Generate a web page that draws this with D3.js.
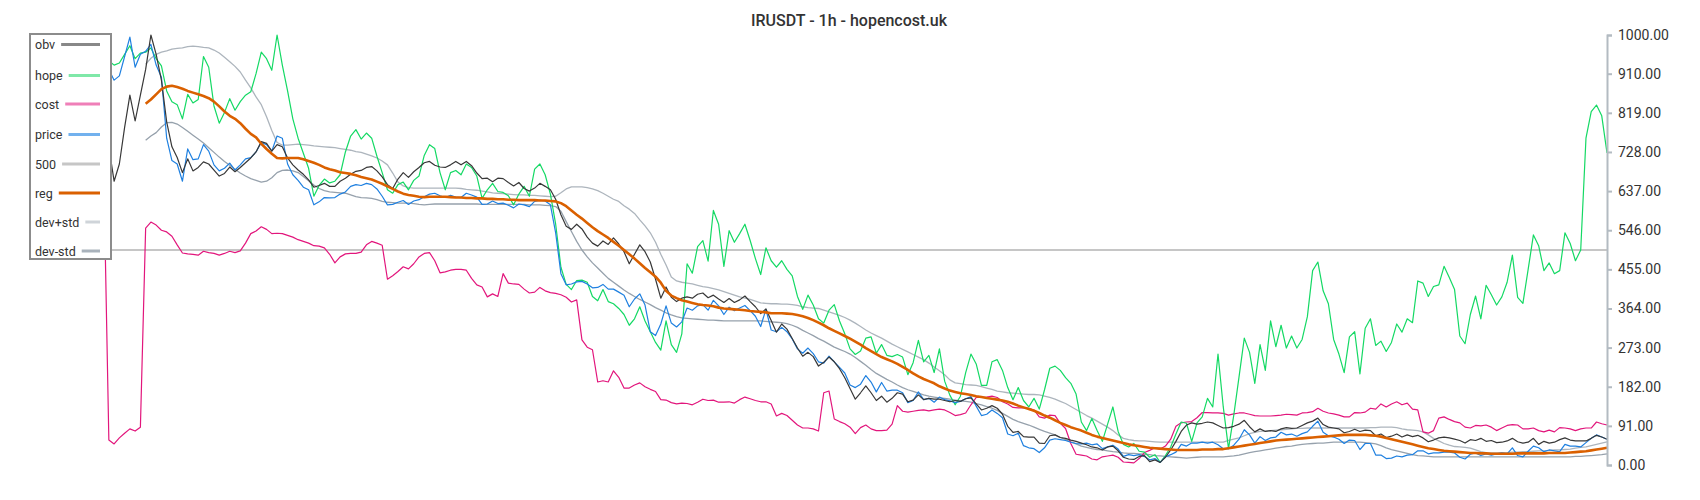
<!DOCTYPE html>
<html><head><meta charset="utf-8">
<script src="https://cdn.jsdelivr.net/npm/d3@7"></script>
<style>body{margin:0;background:#fff;} svg{display:block;font-family:Roboto,'Noto Sans',sans-serif;}</style>
</head><body><svg id="c" width="1700" height="500"></svg>
<script>
const title = "IRUSDT - 1h - hopencost.uk";
const yTicks = [0,91,182,273,364,455,546,637,728,819,910,1000];
const level500 = 500;

const obv = [
560,600,580,640,620,680,650,700,720,690,
740,760,730,770,750,740,660,700,785,860,
800,860,920,1000,955,895,798,740,715,680,
712,684,692,705,700,686,672,678,693,682,
692,703,714,728,752,748,730,745,740,714,
698,686,676,663,646,650,655,648,648,660,
667,676,683,685,692,694,684,670,652,643,
665,680,669,682,692,703,706,697,693,692,
698,706,698,706,696,679,666,667,659,667,
666,657,649,657,643,637,644,655,648,640,
618,582,555,548,560,549,530,516,509,521,
513,528,514,496,468,490,512,496,472,432,
388,414,390,380,388,391,388,397,400,389,
395,386,378,387,378,384,393,380,368,352,
363,336,309,328,316,294,272,253,262,252,
230,239,251,240,224,203,178,153,168,184,
168,150,160,146,155,168,165,147,151,163,
152,155,153,153,150,147,150,148,154,156,
142,128,132,138,132,118,90,76,78,66,
65,65,51,50,68,70,64,62,58,55,
51,47,42,40,35,42,44,33,18,14,
13,20,22,8,12,6,18,35,55,78,
93,98,95,97,100,98,92,86,87,90,
95,104,89,77,84,78,80,78,84,87,
85,86,92,98,102,109,94,88,86,84,
75,78,83,78,81,80,68,72,64,67,
72,65,70,66,69,63,54,58,63,65,
63,60,57,51,59,57,62,55,57,52,
53,56,62,54,51,53,62,48,55,51,
53,59,63,58,56,56,56,62,69,65,
60];

const hope = [
880,905,890,920,900,935,915,940,925,950,
930,945,960,935,950,940,930,935,955,975,
945,958,960,970,945,928,870,845,838,805,
862,842,850,950,925,835,795,820,852,825,
845,860,868,910,960,945,918,1000,930,870,
805,760,725,690,625,650,665,656,660,675,
728,765,780,758,772,760,718,680,640,632,
652,658,640,662,672,720,745,736,680,640,
680,685,675,700,692,672,620,640,655,636,
634,626,605,630,648,625,688,700,675,630,
560,460,420,408,429,430,425,392,382,408,
380,375,364,350,325,340,368,335,310,285,
267,335,280,262,305,468,446,508,522,474,
592,560,462,545,518,538,560,522,480,443,
505,475,460,475,455,440,392,362,395,372,
340,330,360,373,335,305,270,257,265,295,
298,260,280,255,252,257,251,210,238,290,
240,255,215,270,195,162,140,160,215,258,
235,185,185,240,245,220,180,152,180,150,
135,155,130,175,225,230,220,203,190,165,
100,80,108,80,55,95,135,78,48,42,
50,32,30,18,24,6,22,42,72,100,
97,55,98,112,155,135,258,135,38,116,
205,295,262,190,280,220,335,275,325,272,
300,272,292,345,452,472,405,375,292,258,
215,298,310,212,318,340,278,288,264,285,
328,309,340,331,428,423,392,415,419,462,
436,408,300,282,350,393,340,418,396,372,
391,425,488,390,376,455,535,510,452,470,
445,452,540,515,475,500,760,822,837,812,
726];

const cost = [
880,910,930,950,940,965,975,990,1000,985,
960,930,880,800,700,58,49,63,74,84,
79,88,551,565,558,546,542,532,512,493,
491,490,488,497,494,492,488,492,497,494,
498,516,538,544,554,548,538,539,538,534,
530,524,520,516,510,509,505,490,470,484,
491,492,492,495,512,520,516,511,432,440,
450,461,456,468,484,492,494,475,447,449,
453,455,455,453,434,419,414,391,398,392,
445,423,421,420,409,400,402,413,405,401,
399,396,390,379,384,291,274,268,193,196,
193,219,204,179,179,186,191,182,176,171,
152,151,145,142,144,143,140,146,153,150,
151,146,146,147,144,152,158,154,150,147,
147,142,114,120,115,104,93,86,86,84,
79,168,172,107,101,96,88,73,87,93,
84,80,80,81,95,138,125,123,125,127,
128,126,128,130,128,122,115,117,121,140,
157,157,158,160,157,147,142,134,133,133,
132,128,112,109,116,115,97,85,50,25,
23,21,14,12,19,21,23,18,7,6,
5,15,29,34,40,37,44,60,90,98,
100,101,110,122,122,121,121,120,116,119,
121,121,118,115,114,114,114,115,116,118,
117,116,121,122,124,132,125,121,119,116,
112,112,122,121,123,132,130,142,135,142,
147,140,144,130,128,77,74,80,109,112,
106,101,98,88,86,92,91,93,88,80,
86,92,94,93,84,84,86,80,77,81,
77,87,86,84,80,84,86,86,100,96,
93];

const price = [
860,885,870,900,890,920,905,930,915,945,
925,950,935,960,940,920,895,905,950,995,
925,955,962,978,930,902,760,708,700,660,
735,710,712,745,730,698,684,690,702,686,
698,712,715,728,750,745,730,765,760,700,
675,662,646,640,605,612,622,621,622,630,
635,648,652,650,655,652,642,625,605,606,
611,615,606,614,617,624,630,632,626,622,
627,623,622,632,628,623,606,607,614,608,
609,604,598,607,605,601,613,616,614,605,
540,445,419,421,426,427,421,412,413,420,
409,409,402,395,368,386,398,372,310,301,
328,370,330,321,333,365,360,370,373,360,
383,370,350,367,359,365,371,359,346,322,
362,314,310,320,310,293,270,260,272,259,
240,237,253,240,227,214,186,180,188,208,
193,170,192,172,174,174,168,145,150,170,
152,155,146,158,152,149,145,148,154,159,
137,115,118,128,120,110,72,68,74,45,
40,38,29,40,58,61,59,57,53,50,
49,51,47,49,38,42,46,37,20,24,
22,24,20,12,15,6,19,24,30,48,
44,51,51,53,51,53,47,38,38,46,
60,82,70,51,66,57,63,65,76,70,
72,67,73,77,90,102,76,68,65,60,
50,58,57,36,50,50,23,23,15,16,
21,19,23,24,33,33,26,28,28,30,
30,28,18,14,25,28,22,26,23,26,
28,26,40,22,19,32,44,40,31,35,
33,31,48,44,44,42,52,62,70,65,
60];

const reg = [
null,null,null,null,null,null,null,null,null,null,
null,null,null,null,null,null,null,null,null,null,
null,null,840,850,862,874,880,882,879,875,
870,866,862,858,853,845,834,822,812,805,
795,782,770,762,747,735,724,714,713,714,
714,714,711,707,703,698,692,688,685,681,
679,677,674,670,667,664,659,654,648,642,
636,631,628,626,624,623,624,624,624,624,
623,622,622,621,621,620,620,619,619,618,
618,617,617,616,616,616,616,615,615,614,
613,609,602,592,582,573,563,553,544,536,
528,519,510,500,490,480,469,458,448,438,
424,405,394,388,383,380,377,374,372,371,
369,366,364,363,362,361,360,358,357,356,
355,353,353,353,352,351,349,346,342,337,
331,325,318,312,306,300,294,287,280,272,
265,258,251,246,241,235,228,221,213,206,
200,195,190,183,178,173,170,167,165,163,
160,158,156,154,152,150,147,143,138,134,
130,126,121,115,110,104,98,93,88,84,
80,75,70,66,63,60,57,54,51,48,
46,44,42,40,39,38,37,36,35,35,
35,35,35,36,36,36,37,37,39,41,
43,45,47,49,51,53,55,57,58,59,
60,61,62,63,64,65,66,67,68,69,
70,70,70,70,70,69,68,66,63,60,
57,54,51,48,45,42,39,37,35,33,
32,31,30,29,28,28,27,27,26,26,
26,26,26,27,27,27,27,27,27,28,
28,28,28,29,30,31,32,34,36,38,
40];

const devPlus = [
null,null,null,null,null,null,null,null,null,null,
null,null,null,null,null,null,null,null,null,null,
null,null,932,946,955,960,963,967,969,970,
973,974,973,971,970,965,958,948,938,927,
914,895,877,856,838,810,778,750,744,744,
745,746,745,744,742,741,740,739,738,736,
734,732,729,727,723,719,714,707,698,679,
658,649,645,644,644,644,644,644,644,644,
644,644,643,641,640,639,637,635,633,632,
631,630,629,628,628,627,627,626,625,624,
625,633,642,647,647,647,645,642,638,632,
625,618,613,603,595,585,570,556,540,518,
490,465,437,428,425,423,421,418,415,413,
410,407,403,399,395,391,388,385,381,377,
376,375,375,374,374,373,371,368,366,365,
364,360,356,352,348,343,337,330,322,314,
307,301,295,288,281,275,269,263,257,251,
245,237,228,219,210,198,191,189,187,186,
185,182,179,176,172,170,168,167,166,165,
164,164,163,160,157,153,148,143,136,129,
122,115,109,102,95,88,80,70,62,59,
57,56,56,55,54,53,53,53,53,53,
53,53,53,53,53,53,53,53,57,60,
63,68,73,76,78,79,80,81,82,83,
84,85,85,86,86,86,86,86,86,86,
86,86,86,86,86,87,87,88,88,88,
87,84,82,81,80,77,70,62,56,50,
46,43,42,41,39,35,31,29,28,28,
29,29,30,30,31,31,32,33,33,34,
35,35,36,37,39,41,42,45,48,51,
54];

const devMinus = [
null,null,null,null,null,null,null,null,null,null,
null,null,null,null,null,null,null,null,null,null,
null,null,755,765,773,786,796,797,793,785,
776,767,758,749,738,727,716,706,697,688,
679,672,666,662,658,660,668,680,685,686,
684,680,671,661,651,643,638,635,634,633,
632,628,624,622,621,620,617,613,611,610,
609,609,609,608,606,605,606,607,607,607,
607,607,607,607,607,607,606,606,606,606,
606,606,606,606,606,605,605,605,604,603,
601,590,566,543,520,500,484,470,458,446,
434,425,416,407,399,392,385,379,373,366,
360,354,349,345,342,341,340,339,338,337,
337,336,335,335,335,335,335,335,335,335,
334,333,332,331,329,325,320,313,307,301,
294,288,281,274,269,264,258,250,241,232,
222,213,206,199,193,186,180,175,171,167,
163,160,158,156,155,153,151,149,148,146,
143,140,136,132,127,120,113,106,101,97,
93,88,83,78,74,70,64,59,54,49,
44,41,38,36,35,33,31,30,28,27,
27,26,25,24,22,21,20,19,18,17,
16,17,18,19,19,19,19,19,20,21,
23,26,29,31,33,35,37,39,41,43,
44,46,48,49,50,51,51,52,53,53,
53,53,53,53,52,51,49,45,40,36,
33,30,27,24,22,21,20,19,19,19,
19,19,19,19,19,19,19,19,19,19,
19,19,19,19,19,19,19,19,19,19,
19,19,19,19,20,20,21,22,23,24,
26];

// ---------- drawing ----------
const svg = d3.select("#c");
const plot = {left:30, right:1607, top:35, bottom:465};
const n = obv.length;
const x = d3.scaleLinear().domain([0, n - 1]).range([plot.left, plot.right]);
const y = d3.scaleLinear().domain([0, 1000]).range([plot.bottom, plot.top]);

const series = [
  {name:"dev+std", data:devPlus, color:"#adb5bd", width:1.3},
  {name:"dev-std", data:devMinus, color:"#96a1ac", width:1.3},
  {name:"cost", data:cost, color:"#e2167c", width:1.2},
  {name:"hope", data:hope, color:"#14d964", width:1.2},
  {name:"price", data:price, color:"#1f80e0", width:1.2},
  {name:"obv", data:obv, color:"#383838", width:1.2},
  {name:"reg", data:reg, color:"#da6000", width:2.6}
];

const line = d3.line()
  .defined(d => d != null)
  .x((d, i) => x(i))
  .y(d => y(d));

// constant 500 line
svg.append("line")
  .attr("x1", x(0)).attr("x2", x(n - 1))
  .attr("y1", y(level500)).attr("y2", y(level500))
  .attr("stroke", "#c6c6c6").attr("stroke-width", 2);

series.forEach(s => {
  svg.append("path")
    .datum(s.data)
    .attr("fill", "none")
    .attr("stroke", s.color)
    .attr("stroke-width", s.width)
    .attr("stroke-linejoin", "round")
    .attr("d", line);
});

// right axis
const axis = svg.append("g")
  .attr("transform", `translate(${plot.right},0)`)
  .call(d3.axisRight(y).tickValues(yTicks).tickFormat(d => d.toFixed(2)).tickSize(5).tickPadding(6));
axis.select(".domain").attr("stroke", "#b3bbc2").attr("stroke-width", 2);
axis.selectAll(".tick line").attr("stroke", "#b3bbc2").attr("stroke-width", 2);
axis.selectAll(".tick text").attr("fill", "#333").style("font-size", "14px").style("font-family", "Roboto, sans-serif");

// title
svg.append("text")
  .attr("x", 849).attr("y", 26)
  .attr("text-anchor", "middle")
  .attr("fill", "#333")
  .style("font-size", "16px")
  .style("font-weight", "500")
  .text(title);

// legend
const legendItems = [
  {name:"obv", color:"#888888", w:3},
  {name:"hope", color:"#7fe8a8", w:3},
  {name:"cost", color:"#ef7fb8", w:3},
  {name:"price", color:"#72b1ee", w:3},
  {name:"500", color:"#c6c6c6", w:3},
  {name:"reg", color:"#da6000", w:3.2},
  {name:"dev+std", color:"#cfd4d9", w:3},
  {name:"dev-std", color:"#a9b2bb", w:3}
];
const legendRowsY = [44.5, 75.5, 104, 134.5, 164, 193, 222, 251];
const lg = svg.append("g");
lg.append("rect")
  .attr("x", 30).attr("y", 34).attr("width", 81).attr("height", 225)
  .attr("fill", "#fff").attr("stroke", "#8c8c8c").attr("stroke-width", 2);
legendItems.forEach((it, k) => {
  const ty = legendRowsY[k];
  const t = lg.append("text")
    .attr("x", 35).attr("y", ty)
    .attr("dominant-baseline", "central")
    .attr("fill", "#333")
    .style("font-size", "12.5px")
    .text(it.name);
  const tw = t.node().getComputedTextLength();
  lg.append("line")
    .attr("x1", 35 + tw + 6).attr("x2", 100)
    .attr("y1", ty).attr("y2", ty)
    .attr("stroke", it.color).attr("stroke-width", it.w);
});
</script>
</body></html>
